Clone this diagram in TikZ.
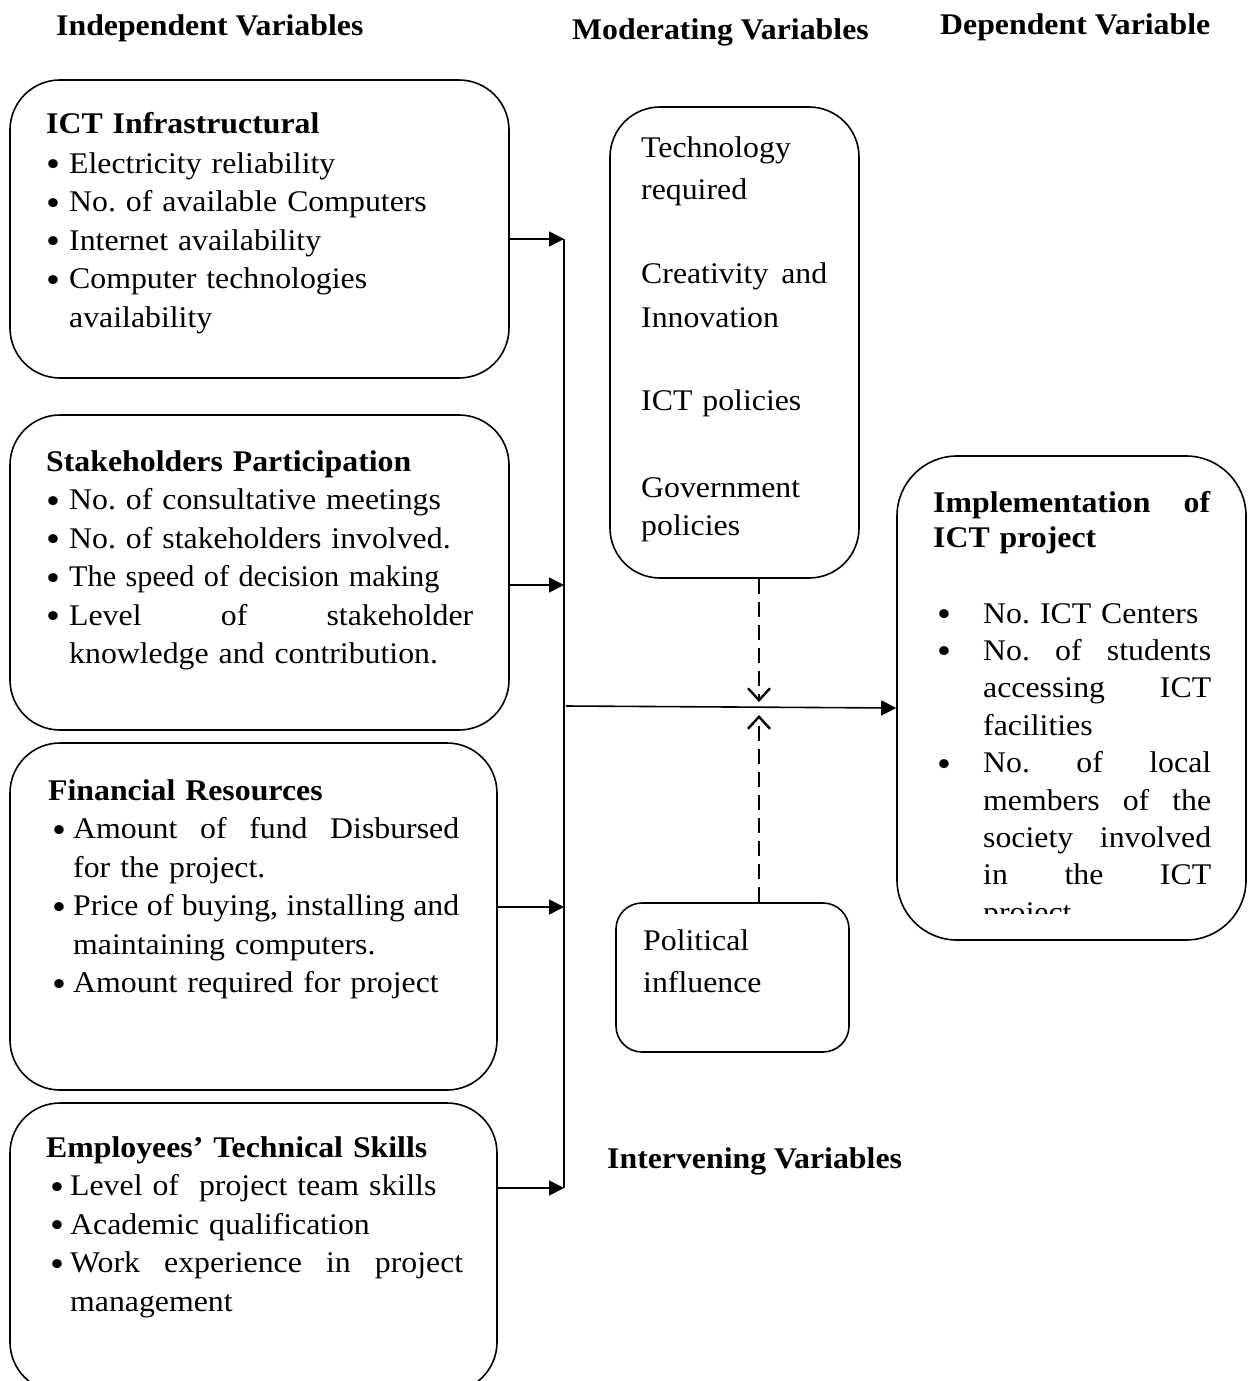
\documentclass[tikz,border=0pt]{standalone}
\usepackage{fontspec}
\usepackage{graphicx}
\setmainfont{Liberation Serif}[FakeStretch=1.06]
\usetikzlibrary{arrows.meta}
\frenchspacing
\newcommand{\bul}[1][23pt]{\makebox[#1][l]{\raisebox{-3.5pt}{\scalebox{1.25}{\textbullet}}}}
\newcommand{\ind}[1][23pt]{\hspace*{#1}}
\newcommand{\jl}[2]{\hbox to #1{\spaceskip=\fontdimen2\font plus 1fil\relax #2}}
\begin{document}
\begin{tikzpicture}[x=1pt,y=-1pt]
\tikzset{
 varbox/.style={draw, line width=1.6pt, inner sep=0pt, rounded corners=50pt},
 body/.style={anchor=base west, inner sep=0pt, text width=#1, align=left, font=\fontsize{30}{38.5}\selectfont\frenchspacing},
 modtxt/.style={anchor=base west, inner sep=0pt, text width=230pt, align=left, font=\fontsize{30}{42}\selectfont\frenchspacing},
 head/.style={anchor=base west, inner sep=0pt, font=\fontsize{30}{38}\selectfont\bfseries},
 feed/.style={line width=1.6pt, -{Triangle[length=15pt,width=15pt]}},
 modarrow/.style={line width=2.6pt, dash pattern=on 15pt off 8pt, -{Straight Barb[length=12pt,width=22pt,line width=2.4pt]}}
}
\clip (0,0) rectangle (1250,1381);
\fill[white] (0,0) rectangle (1250,1381);

% headers
\node[head] (hIndep) at (56,36) {Independent Variables};
\node[head] (hMod) at (572,40) {Moderating Variables};
\node[head] (hDep) at (940,35) {Dependent Variable};
\node[head] (hInt) at (607,1168) {Intervening Variables};

% independent variable boxes
\node[varbox, minimum width=499pt, minimum height=298pt] (b1) at (259.5,229) {};
\node[varbox, minimum width=499pt, minimum height=315pt] (b2) at (259.5,572.5) {};
\node[varbox, minimum width=487pt, minimum height=347pt] (b3) at (253.5,916.5) {};
\node[varbox, minimum width=487pt, minimum height=289pt] (b4) at (253.5,1247.5) {};

\node[body=460pt] (t1) at (46,133) {\textbf{ICT Infrastructural}\\[1.5pt]
\bul Electricity reliability\\
\bul No. of available Computers\\
\bul Internet availability\\
\bul Computer technologies\\
\ind availability};

\node[body=440pt] (t2) at (46,471) {\textbf{Stakeholders Participation}\\
\bul No. of consultative meetings\\
\bul No. of stakeholders involved.\\
\bul\scalebox{0.95}[1]{The speed of decision making}\\
\bul\jl{404pt}{Level of stakeholder}\\
\ind knowledge and contribution.};

\node[body=440pt] (t3) at (48,800) {\textbf{Financial Resources}\\
\hspace*{4pt}\bul[21pt]\jl{386pt}{Amount of fund Disbursed}\\
\ind[25pt]for the project.\\
\hspace*{4pt}\bul[21pt]\jl{386pt}{Price of buying, installing and}\\
\ind[25pt]maintaining computers.\\
\hspace*{4pt}\bul[21pt]Amount required for project};

\node[body=440pt] (t4) at (46,1157) {\textbf{Employees’ Technical Skills}\\
\hspace*{4pt}\bul[20pt]Level of\ \ project team skills\\
\hspace*{4pt}\bul[20pt]Academic qualification\\
\hspace*{4pt}\bul[20pt]\jl{393pt}{Work experience in project}\\
\ind[24pt]management};

% moderating box
\node[varbox, minimum width=249pt, minimum height=471pt] (mod) at (734.5,342.5) {};
\node[modtxt] (m1t) at (641,157) {Technology\\required};
\node[modtxt] (m2t) at (641,283) {\jl{186pt}{Creativity and}\\[2pt]Innovation};
\node[modtxt] (m3t) at (641,410) {ICT policies};
\node[modtxt, font=\fontsize{30}{38}\selectfont] (m4t) at (641,497) {Government\\policies};

% intervening box
\node[varbox, rounded corners=26pt, minimum width=233pt, minimum height=149pt] (pol) at (732.5,977.5) {};
\node[modtxt] (pt) at (643,950) {Political\\influence};

% dependent box
\node[varbox, rounded corners=60pt, minimum width=349pt, minimum height=484pt] (dep) at (1071.5,698) {};
\node[body=300pt, font=\fontsize{30}{35}\selectfont\bfseries] (dt) at (933,512) {\jl{277pt}{Implementation of}\\ICT project};
\begin{scope}
\clip (897,456) rectangle (1246,913);
\node[body=300pt, font=\fontsize{30}{37.4}\selectfont\frenchspacing] (db) at (937,623) {\bul[46pt]No. ICT Centers\\
\bul[46pt]\jl{228pt}{No. of students}\\
\ind[46pt]\jl{228pt}{accessing ICT}\\
\ind[46pt]facilities\\
\bul[46pt]\jl{228pt}{No. of local}\\
\ind[46pt]\jl{228pt}{members of the}\\
\ind[46pt]\jl{228pt}{society involved}\\
\ind[46pt]\jl{228pt}{in the ICT}\\
\ind[46pt]project};
\end{scope}

% connectors
\coordinate (j1) at (564,239);
\coordinate (j2) at (564,585);
\coordinate (j3) at (564,907);
\coordinate (j4) at (564,1188);
\draw[line width=1.6pt] (j1) -- (j4);
\draw[feed] (b1.east |- j1) -- (j1);
\draw[feed] (b2.east |- j2) -- (j2);
\draw[feed] (b3.east |- j3) -- (j3);
\draw[feed] (b4.east |- j4) -- (j4);

\coordinate (m0) at (566,706);
\coordinate (mEnd) at (897,708);
\draw[feed] (m0) -- (dep.west |- mEnd);

\coordinate (dD) at (759,702);
\coordinate (dU) at (759,715);
\draw[modarrow] (dD |- mod.south) -- (dD);
\draw[modarrow] (dU |- pol.north) -- (dU);
\end{tikzpicture}
\end{document}
